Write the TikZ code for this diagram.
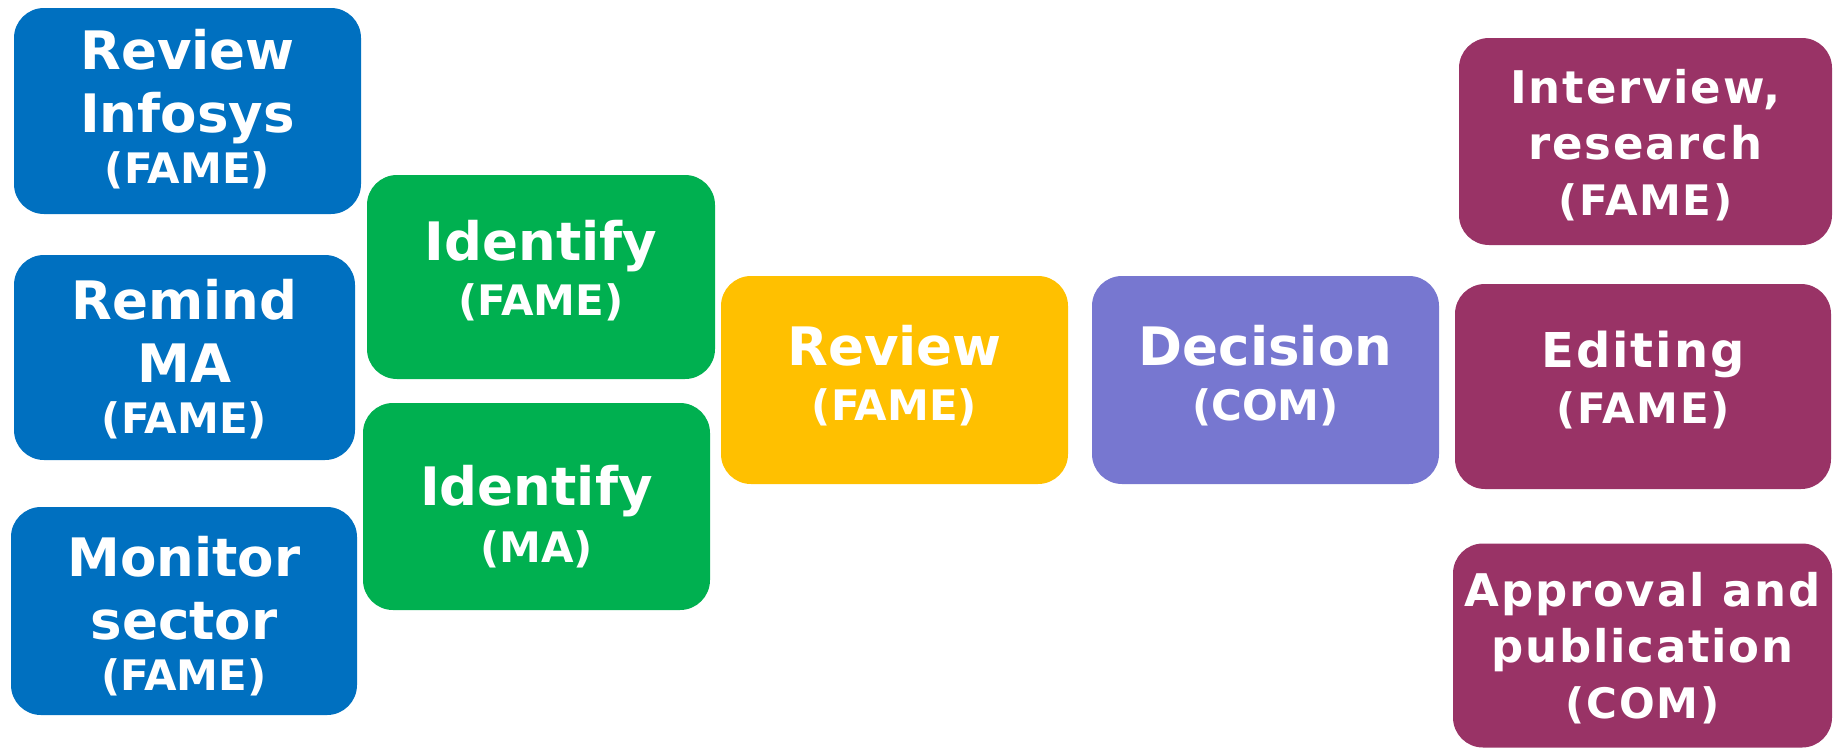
\documentclass[tikz,border=0pt]{standalone}
\usepackage{fontspec}
\setmainfont{DejaVu Sans}
\newfontfamily\widefont{DejaVu Sans}[LetterSpace=4]
\definecolor{fameblue}{HTML}{0070C0}
\definecolor{famegreen}{HTML}{00B050}
\definecolor{fameyellow}{HTML}{FFC000}
\definecolor{comviolet}{HTML}{7777D0}
\definecolor{pubplum}{HTML}{993366}
% smaller line for the party in charge
\newcommand{\party}[1]{{\fontsize{42}{42}\selectfont #1}}
\begin{document}
\begin{tikzpicture}[x=1pt,y=-1pt,
  task/.style={rounded corners=30pt, inner sep=0pt, minimum width=#1},
  task/.default=347pt,
  caption/.style={inner sep=0pt, text=white, align=center},
  threeline/.style={caption, font=\bfseries\fontsize{53}{63}\selectfont},
  twoline/.style={caption, font=\bfseries\fontsize{53}{55}\selectfont},
  rightline/.style={caption, font=\widefont\bfseries\fontsize{45}{56}\selectfont},
]
\useasboundingbox (0,0) rectangle (1837,748);

% sources of information
\node[task, fill=fameblue, minimum height=206pt] (infosys) at (187.5,111) {};
\node[threeline, yshift=2pt] (infosys-t) at (infosys) {Review\\Infosys\\[-12pt]\party{(FAME)}};
\node[task=341pt, fill=fameblue, minimum height=205pt] (remind) at (184.5,357.5) {};
\node[threeline, yshift=-2pt] (remind-t) at (remind) {Remind\\MA\\[-12pt]\party{(FAME)}};
\node[task=346pt, fill=fameblue, minimum height=208pt] (monitor) at (184,611) {};
\node[threeline, yshift=-5pt] (monitor-t) at (monitor) {Monitor\\sector\\[-12pt]\party{(FAME)}};

% identification
\node[task=348pt, fill=famegreen, minimum height=204pt] (idfame) at (541,277) {};
\node[twoline, yshift=6pt] (idfame-t) at (idfame) {Identify\\\party{(FAME)}};
\node[task, fill=famegreen, minimum height=207pt] (idma) at (536.5,506.5) {};
\node[twoline, yshift=-10pt] (idma-t) at (idma) {Identify\\[2pt]\party{(MA)}};

% review and decision
\node[task, fill=fameyellow, minimum height=208pt] (review) at (894.5,380) {};
\node[twoline, yshift=4pt] (review-t) at (review) {Review\\\party{(FAME)}};
\node[task, fill=comviolet, minimum height=208pt] (decision) at (1265.5,380) {};
\node[twoline, yshift=4pt] (decision-t) at (decision) {Decision\\\party{(COM)}};

% follow-up
\node[task=373pt, fill=pubplum, minimum height=207pt] (interview) at (1645.5,141.5) {};
\node[rightline, yshift=-4pt] (interview-t) at (interview) {Interview,\\research\\\party{(FAME)}};
\node[task=376pt, fill=pubplum, minimum height=205pt] (editing) at (1643,386.5) {};
\node[rightline, yshift=6pt] (editing-t) at (editing) {{\fontsize{48}{48}\selectfont Editing}\\\party{(FAME)}};
\node[task=379pt, fill=pubplum, minimum height=204pt] (approval) at (1642.5,645.5) {};
\node[rightline, yshift=-3pt] (approval-t) at (approval) {Approval and\\publication\\\party{(COM)}};
\end{tikzpicture}
\end{document}
